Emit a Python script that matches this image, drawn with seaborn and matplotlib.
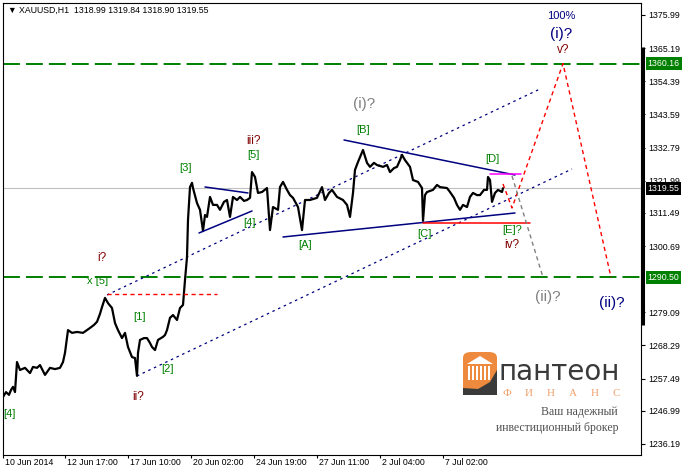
import matplotlib
matplotlib.use('Agg')
import matplotlib.pyplot as plt
import matplotlib.transforms as mtransforms
from matplotlib.patches import FancyBboxPatch, Polygon, Rectangle
import pandas as pd
import seaborn as sns

# ======= data: XAUUSD H1, waypoints =======
bars = [0, 3, 6, 8, 10, 12, 14, 17, 22, 27,
        30, 34, 37, 42, 47, 52, 57, 60, 62, 65,
        69, 74, 80, 84, 87, 91, 94, 97, 99, 102,
        105, 109, 112, 115, 119, 122, 125, 129, 132, 134,
        135, 137, 141, 144, 147, 149, 152, 155, 160, 162,
        164, 167, 170, 174, 177, 180, 182, 184, 185, 187,
        189, 190, 194, 197, 200, 202, 204, 207, 210, 214,
        217, 221, 224, 227, 230, 234, 237, 241, 244, 247,
        249, 252, 255, 259, 264, 267, 270, 275, 277, 280,
        284, 287, 290, 295, 299, 302, 307, 314, 319, 322,
        326, 329, 334, 340, 344, 347, 350, 352, 355, 360,
        364, 367, 371, 374, 380, 384, 387, 391, 394, 397,
        399, 402, 407, 410, 415, 419, 420, 422, 424, 430,
        434, 437, 444, 447, 451, 454, 457, 460, 464, 467,
        470, 474, 477, 481, 484, 485, 487, 489, 492, 495,
        499, 500]
closes = [1251.5, 1253.1, 1252.2, 1253.8, 1254.8, 1253.1, 1262.9, 1260.3, 1261.0, 1259.3,
          1261.3, 1261.0, 1261.9, 1258.7, 1261.0, 1260.6, 1261.0, 1262.9, 1265.9, 1273.3,
          1272.4, 1272.7, 1272.4, 1273.3, 1274.0, 1275.0, 1276.0, 1278.6, 1280.8, 1283.8,
          1282.1, 1280.5, 1275.6, 1273.3, 1270.7, 1272.4, 1267.8, 1264.5, 1264.2, 1258.4,
          1265.9, 1270.1, 1270.7, 1270.7, 1269.1, 1267.8, 1266.8, 1270.1, 1271.1, 1271.7,
          1273.3, 1277.3, 1278.2, 1276.6, 1280.5, 1281.5, 1289.6, 1297.1, 1309.2, 1319.9,
          1321.3, 1319.6, 1314.7, 1312.5, 1305.6, 1310.8, 1310.2, 1316.7, 1314.1, 1314.1,
          1312.5, 1315.1, 1315.7, 1310.2, 1316.7, 1315.7, 1316.7, 1315.4, 1315.7, 1316.4,
          1324.8, 1323.2, 1318.0, 1318.3, 1319.6, 1305.9, 1313.4, 1312.5, 1319.9, 1321.6,
          1319.0, 1317.3, 1316.4, 1313.4, 1305.9, 1315.7, 1315.7, 1316.4, 1319.9, 1315.7,
          1318.0, 1319.0, 1316.7, 1315.7, 1314.1, 1310.2, 1318.0, 1325.5, 1328.1, 1332.0,
          1327.8, 1326.5, 1327.8, 1327.1, 1326.5, 1327.1, 1324.8, 1326.1, 1326.5, 1328.7,
          1330.4, 1328.7, 1326.5, 1322.2, 1321.6, 1319.6, 1308.9, 1317.3, 1318.3, 1319.0,
          1320.6, 1319.9, 1319.6, 1318.3, 1316.4, 1314.1, 1312.5, 1314.1, 1313.4, 1316.7,
          1318.0, 1317.3, 1317.3, 1319.0, 1319.0, 1323.2, 1322.2, 1315.1, 1318.0, 1319.0,
          1318.3, 1319.55]
last_price = 1319.55
ohlc_text = "1318.99 1319.84 1318.90 1319.55"

time_ticks = [0, 62, 125, 188, 251, 314, 377, 440]
time_labels = ["10 Jun 2014", "12 Jun 17:00", "17 Jun 10:00", "20 Jun 02:00",
               "24 Jun 19:00", "27 Jun 11:00", "2 Jul 04:00", "7 Jul 02:00"]
price_ticks = [1375.99, 1365.19, 1354.39, 1343.59, 1332.79, 1321.99, 1311.49,
               1300.69, 1279.09, 1268.29, 1257.49, 1246.99, 1236.19]
levels = [1360.16, 1290.50]
scale_bar = [1365.6, 1275.0]

# trend lines: (bar0, price0, bar1, price1)
channel_up = [104, 1284.75, 537, 1351.88]
channel_low = [134, 1258.35, 569, 1325.81]
tri_small_up = [202, 1319.94, 245, 1317.99]
tri_small_low = [196, 1304.95, 249, 1312.12]
tri_big_up = [341, 1335.26, 512, 1323.85]
tri_big_low = [280, 1303.65, 512, 1311.47]
d_level = [487, 1324.18, 518, 1324.18]
c_level = [420, 1308.21, 527, 1308.21]
x5_level = [104, 1285.07, 214, 1285.07]

# projections
main_bars = [500, 509, 560, 608]
main_prices = [1320.92, 1313.10, 1360.16, 1290.50]
alt_bars = [509, 540]
alt_prices = [1323.53, 1290.50]

# wave labels
wave_text = ["x [5]", "[1]", "[2]", "[4]", "[3]", "[4]", "[5]", "[A]", "[B]", "[C]", "[D]", "[E]?",
             "i?", "ii?", "iii?", "iv?", "v?",
             "(i)?", "(ii)?", "(i)?", "(ii)?", "100%"]
wave_bars = [95, 136, 165, 6, 183, 246, 250, 302, 360, 421, 489, 509,
             99, 135, 250, 509, 560,
             361, 545, 558, 609, 558]
wave_prices = [1289.3, 1277.6, 1260.6, 1246.0, 1326.1, 1308.2, 1330.4, 1301.0, 1338.5, 1304.6, 1329.1, 1305.9,
               1296.8, 1251.5, 1334.9, 1301.0, 1364.6,
               1347.0, 1284.1, 1369.8, 1282.1, 1375.7]
wave_kind = ["minute"] * 12 + ["minor"] * 5 + ["alt", "alt", "main", "main", "pct"]

# ======= style =======
sns.set_theme(style="white")
plt.rcParams['font.family'] = ['Liberation Sans', 'DejaVu Sans']
GREEN = '#008000'
NAVY = '#000080'
MAROON = '#800000'
kind_style = {"minute": (GREEN, 8), "minor": (MAROON, 8.5), "alt": ('#808080', 11),
              "main": (NAVY, 11), "pct": (NAVY, 8)}

fig = plt.figure(figsize=(6.85, 4.66), dpi=100)
ax = fig.add_axes([3 / 685, 11 / 466, 638 / 685, 452 / 466])
ax.set_xlim(0, 638)
ax.set_ylim(1232.6, 1379.9)

# levels
ax.axhline(last_price, color='#c0c0c0', lw=0.8, zorder=1)
for lv in levels:
    ax.axhline(lv, color=GREEN, lw=1.4, ls=(0, (8.7, 3.1)), zorder=2)


def seg(ax, line, **kw):
    ax.plot([line[0], line[2]], [line[1], line[3]], **kw)


seg(ax, channel_up, color=NAVY, lw=0.9, ls=(0, (2, 3)), zorder=2)
seg(ax, channel_low, color=NAVY, lw=0.9, ls=(0, (2, 3)), zorder=2)
for ln in [tri_small_up, tri_small_low, tri_big_up, tri_big_low]:
    seg(ax, ln, color=NAVY, lw=1.1, zorder=4)
seg(ax, d_level, color='#ff00ff', lw=1.1, zorder=4)
seg(ax, c_level, color='#ff0000', lw=1.1, zorder=4)
seg(ax, x5_level, color='#ff0000', lw=1.0, ls=(0, (3, 2.5)), zorder=4)

ax.plot(main_bars, main_prices, color='#ff0000', lw=1.0, ls=(0, (3, 2.5)), zorder=4)
ax.plot(alt_bars, alt_prices, color='#808080', lw=1.0, ls=(0, (3, 2.5)), zorder=4)

# price
df = pd.DataFrame({'bar': bars, 'close': closes})
sns.lineplot(data=df, x='bar', y='close', color='black', lw=1.6, sort=False,
             estimator=None, ax=ax, zorder=3)

for t, b, p, k in zip(wave_text, wave_bars, wave_prices, wave_kind):
    c, s = kind_style[k]
    ax.text(b, p, t, color=c, fontsize=s, ha='center', va='center', zorder=5)

# axes
ax.set_xlabel('')
ax.set_ylabel('')
for sp in ax.spines.values():
    sp.set_color('black')
    sp.set_linewidth(0.8)
ax.yaxis.tick_right()
ax.set_yticks(price_ticks)
ax.set_yticklabels([f"{v:.2f}" for v in price_ticks])
ax.set_xticks(time_ticks)
ax.set_xticklabels(time_labels, ha='left')
ax.tick_params(axis='y', direction='out', length=3, width=0.8, pad=2, labelsize=6.3, colors='black')
ax.tick_params(axis='x', direction='out', length=2, width=0.8, pad=0, labelsize=6.3, colors='black')
ax.tick_params(axis='x', bottom=True)
ax.tick_params(axis='y', right=True, left=False)
off = mtransforms.ScaledTranslation(2 / 100, 0, fig.dpi_scale_trans)
for lab in ax.get_xticklabels():
    lab.set_transform(lab.get_transform() + off)
ax.grid(False)

# price-scale boxes
yb = mtransforms.blended_transform_factory(ax.transAxes, ax.transData)
ax.plot([1.0025, 1.0025], scale_bar, transform=yb, color='black', lw=2.2,
        solid_capstyle='butt', clip_on=False, zorder=6)
for val, bg in [(levels[0], GREEN), (last_price, 'black'), (levels[1], GREEN)]:
    ax.text(1.0102, val, f"{val:.2f}", transform=yb, color='white', fontsize=6.3,
            ha='left', va='center', zorder=7,
            bbox=dict(boxstyle='square,pad=0.22', fc=bg, ec='none'))

ax.text(5 / 638, 1 - 7 / 452, "\u25bc XAUUSD,H1  " + ohlc_text, transform=ax.transAxes,
        fontsize=6.3, color='black', ha='left', va='center', zorder=7)


# ======= logo (pixel placement) =======
def fx(x, y):
    return x / 685, 1 - y / 466


ORANGE = '#ee8a3e'
x0, y0 = fx(463, 395)
fig.add_artist(FancyBboxPatch((x0, y0), 34 / 685, 43 / 466,
                              boxstyle='round,pad=0,rounding_size=0.012',
                              fc=ORANGE, ec='none', transform=fig.transFigure))
fig.add_artist(Polygon([fx(467, 364), fx(480, 356), fx(493, 364)], closed=True,
                       fc='white', ec='none', transform=fig.transFigure))
for cx in [468, 472, 476, 480, 484, 488]:
    xa, ya = fx(cx, 380)
    fig.add_artist(Rectangle((xa, ya), 2 / 685, 14 / 466, fc='white', ec='none',
                             transform=fig.transFigure))
fig.add_artist(Polygon([fx(463, 395), fx(497, 395), fx(497, 370), fx(490, 382), fx(478, 389), fx(463, 388)],
                       closed=True, fc='#3a3a3a', ec='none', transform=fig.transFigure))

fig.text(*fx(499, 380), "пантеон", fontsize=20, color='#3a3a3a', ha='left', va='baseline',
         family=['DejaVu Sans'])
for cx, ch in zip([507, 529, 551, 573, 595, 616], "ФИНАНС"):
    fig.text(*fx(cx, 393), ch, fontsize=8, color='#f2a06a', ha='center', va='center',
             family=['Liberation Serif', 'DejaVu Serif'])
fig.text(*fx(618, 412), "Ваш надежный", fontsize=8.5, color='#505050', ha='right', va='center',
         family=['Liberation Serif', 'DejaVu Serif'])
fig.text(*fx(618, 428), "инвестиционный брокер", fontsize=8.5, color='#505050', ha='right', va='center',
         family=['Liberation Serif', 'DejaVu Serif'])

fig.savefig('out.png', dpi=100, facecolor='white')
